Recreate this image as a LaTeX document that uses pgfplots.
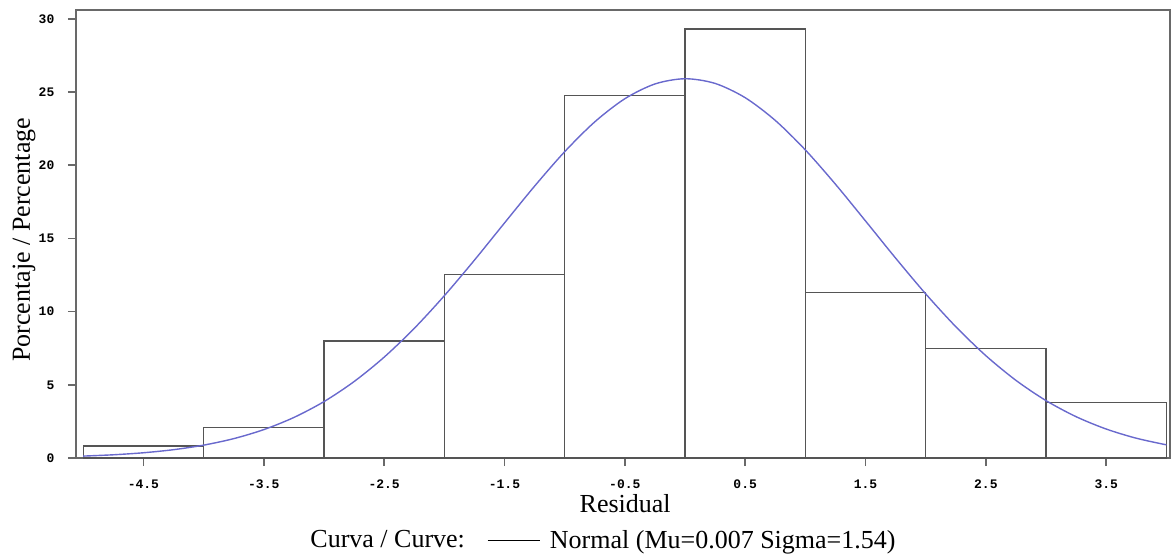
\documentclass[border=0pt]{standalone}
\usepackage{fontspec}
\setmainfont{Liberation Serif}
\setsansfont{Liberation Sans}
\newfontfamily\tickfont{Liberation Mono Bold}
\usepackage{pgfplots}
\pgfplotsset{compat=1.18}
\definecolor{framegray}{RGB}{105,105,105}
\definecolor{bargray}{RGB}{85,85,85}
\definecolor{curveblue}{RGB}{105,105,205}
\begin{document}
\begin{tikzpicture}
\path[use as bounding box] (-38pt,-50pt) rectangle (550pt,229pt);
\begin{axis}[
  at={(0,0)}, anchor=south west,
  scale only axis, width=547pt, height=224pt,
  xmin=-5.06, xmax=4.03, ymin=0, ymax=30.6,
  axis line style={framegray, line width=0.9pt},
  tick align=outside, major tick length=4pt,
  major tick style={framegray, line width=0.8pt},
  xtick pos=left, ytick pos=left,
  xtick={-4.5,-3.5,-2.5,-1.5,-0.5,0.5,1.5,2.5,3.5},
  xticklabels={-4.5,-3.5,-2.5,-1.5,-0.5,0.5,1.5,2.5,3.5},
  ytick={0,5,10,15,20,25,30},
  yticklabels={0,5,10,15,20,25,30},
  ticklabel style={font=\tickfont\fontsize{6.5}{7}\selectfont, text=black},
  xticklabel style={yshift=-3.6pt},
  yticklabel style={xshift=-3.3pt},
  xlabel={Residual}, ylabel={Porcentaje / Percentage},
  label style={font=\fontsize{13}{15}\selectfont},
  xlabel style={at={(axis description cs:0.502,-0.102)}, anchor=center},
  ylabel style={at={(axis description cs:-0.0475,0.487)}, anchor=center},
  legend columns=2,
  legend style={draw=none, fill=none, at={(axis description cs:0.4817,-0.185)}, anchor=center,
    font=\fontsize{13}{15}\selectfont},
  legend cell align=left,
]
\addplot[ybar interval, draw=bargray, line width=0.7pt, fill=none, forget plot] coordinates {
  (-5,0.82) (-4,2.1) (-3,8.0) (-2,12.55) (-1,24.75) (0,29.3) (1,11.3) (2,7.5) (3,3.8) (4,3.8)
};
\addplot[curveblue, line width=0.7pt, smooth, forget plot] coordinates {
  (-5,0.131) (-4.75,0.220) (-4.5,0.358) (-4.25,0.568) (-4,0.878) (-3.75,1.322)
  (-3.5,1.938) (-3.25,2.768) (-3,3.850) (-2.75,5.218) (-2.5,6.886) (-2.25,8.850)
  (-2,11.081) (-1.75,13.511) (-1.5,16.050) (-1.25,18.566) (-1,20.919) (-0.75,22.957)
  (-0.5,24.539) (-0.25,25.547) (0,25.905) (0.25,25.585) (0.5,24.611) (0.75,23.059)
  (1,21.042) (1.25,18.702) (1.5,16.191) (1.75,13.653) (2,11.212) (2.25,8.969)
  (2.5,6.988) (2.75,5.303) (3,3.919) (3.25,2.821) (3.5,1.978) (3.75,1.351) (4,0.899)
};
\addlegendimage{empty legend}
\addlegendentry{Curva / Curve:\hspace*{9pt}}
\addlegendimage{legend image code/.code={\draw[black, line width=0.6pt] (0pt,0pt) -- (26pt,0pt); \path (29pt,0pt);}}
\addlegendentry{Normal (Mu=0.007 Sigma=1.54)}
\end{axis}
\end{tikzpicture}
\end{document}
